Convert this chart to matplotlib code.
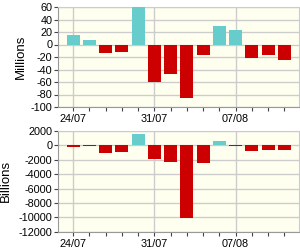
import matplotlib
matplotlib.use("Agg")
import matplotlib.pyplot as plt

dates = ["24/07", "25/07", "26/07", "27/07", "28/07", "31/07", "01/08",
         "02/08", "03/08", "04/08", "07/08", "08/08", "09/08", "10/08"]
millions = [15, 6.5, -14, -12.5, 60, -60, -47, -86, -16, 29, 24, -21, -16, -24]
billions = [-250, -80, -1030, -900, 1600, -1900, -2300, -10100, -2450,
            550, -100, -750, -650, -650]
labelled = ["24/07", "31/07", "07/08"]

UP = "#66cccc"
DOWN = "#cc0000"
BG = "#fffff0"
GRID = "#cccccc"

plt.rcParams["font.family"] = ["Liberation Sans", "DejaVu Sans"]
plt.rcParams["axes.unicode_minus"] = False

fig = plt.figure(figsize=(3, 2.5), dpi=100)
ax1 = fig.add_axes([0.193, 0.572, 0.805, 0.40])
ax2 = fig.add_axes([0.193, 0.073, 0.805, 0.403])


def draw(ax, values, ylim, yticks, ylabel, labelx):
    x = list(range(len(values)))
    colors = [UP if v >= 0 else DOWN for v in values]
    ax.bar(x, values, width=0.8, color=colors, zorder=3)
    ax.set_facecolor(BG)
    ax.set_xlim(-0.93, len(values) - 0.07)
    ax.set_ylim(*ylim)
    ax.set_yticks(yticks)
    ax.set_xticks(x)
    ax.set_xticklabels([d if d in labelled else "" for d in dates])
    ax.tick_params(axis="both", labelsize=7.8, length=3, width=0.8,
                   color="#444444", pad=1)
    ax.tick_params(axis="x", pad=2)
    ax.grid(axis="y", color=GRID, linewidth=1, zorder=1)
    for i, d in enumerate(dates):
        if d in labelled:
            ax.axvline(i, color=GRID, linewidth=1, zorder=1)
    for s in ax.spines.values():
        s.set_color(GRID)
    ax.spines["left"].set_color("#999999")
    ax.spines["bottom"].set_color("#999999")
    ax.set_ylabel(ylabel, fontsize=9.5)
    ax.yaxis.set_label_coords(labelx, 0.5)


draw(ax1, millions, (-100, 60), range(-100, 61, 20), "Millions", -0.13)
draw(ax2, billions, (-12000, 2000), range(-12000, 2001, 2000), "Billions", -0.19)

fig.savefig("out.png", dpi=100, facecolor="white")
